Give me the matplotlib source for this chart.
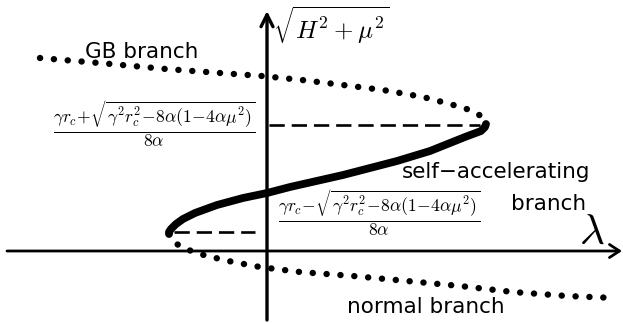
import matplotlib
matplotlib.use("Agg")
import matplotlib.pyplot as plt

plt.rcParams['mathtext.fontset'] = 'cm'
plt.rcParams['font.family'] = ['DejaVu Sans']
plt.rcParams['lines.scale_dashes'] = False

# Schematic curve values (lambda, sqrt(H^2+mu^2))
gb_lam = [-227, -156, -101, -47, -5, 35, 76, 116, 156, 183, 203, 211, 216, 219]
gb_s = [193, 187, 182, 178, 175, 171, 166, 161, 154, 147, 141, 137, 133, 127]

sa_lam = [219, 218, 214, 206, 198, 163, 130, 76, 23, 0, -24, -50, -72, -84, -91, -96, -98, -98]
sa_s = [127, 124, 120, 117, 114, 100, 90, 76, 64, 58, 53, 46, 38, 32, 27, 22, 19, 17]

nb_lam = [-98, -94, -86, -73, -60, -34, -7, 33, 86, 140, 193, 246, 300, 348]
nb_s = [17, 10, 4, -1, -5, -11, -16, -21, -25, -30, -35, -41, -45, -47]

upper_turn = (219, 126)
lower_turn = (-98, 19)

fig = plt.figure(figsize=(6.23, 3.24), dpi=100)
ax = fig.add_axes([0, 0, 1, 1])
ax.set_xlim(-267, 356)
ax.set_ylim(-73, 251)
ax.axis('off')

# axes with arrows
ax.annotate('', xy=(355, 0), xytext=(-260, 0),
            arrowprops=dict(arrowstyle='->,head_length=7.2,head_width=4.7',
                            mutation_scale=1, lw=2.0, color='black',
                            shrinkA=0, shrinkB=0))
ax.annotate('', xy=(0, 240), xytext=(0, -69),
            arrowprops=dict(arrowstyle='->,head_length=8.6,head_width=4.3',
                            mutation_scale=1, lw=2.4, color='black',
                            shrinkA=0, shrinkB=0))

dot_style = dict(color='black', lw=4.6, linestyle=(0, (0.1, 9.9)),
                 dash_capstyle='round', solid_capstyle='round')
ax.plot(gb_lam, gb_s, **dot_style)
ax.plot(nb_lam, nb_s, **dot_style)
ax.plot(sa_lam, sa_s, color='black', lw=5.6, solid_capstyle='round',
        solid_joinstyle='round')

dash_style = dict(color='black', lw=1.9, linestyle=(0, (11, 5)))
ax.plot([2, upper_turn[0] - 6], [upper_turn[1], upper_turn[1]], **dash_style)
ax.plot([lower_turn[0] + 5, -12], [lower_turn[1], lower_turn[1]], **dash_style)

# labels
ax.text(-182, 193, 'GB branch', fontsize=15.5, ha='left', va='baseline')
ax.text(135, 73, 'self\u2212accelerating', fontsize=15.5, ha='left', va='baseline')
ax.text(244, 41, 'branch', fontsize=15.5, ha='left', va='baseline')
ax.text(80, -62, 'normal branch', fontsize=15.5, ha='left', va='baseline')

ax.text(-113, 126.5,
        r'$\frac{\gamma r_c\!+\!\sqrt{\gamma^2 r_c^2\!-\!8\alpha(1\!-\!4\alpha\mu^2)}}{8\alpha}$',
        fontsize=18, ha='center', va='center')
ax.text(112, 38,
        r'$\frac{\gamma r_c\!-\!\sqrt{\gamma^2 r_c^2\!-\!8\alpha(1\!-\!4\alpha\mu^2)}}{8\alpha}$',
        fontsize=18, ha='center', va='center')

ax.text(6, 226, r'$\sqrt{H^2+\mu^2}$', fontsize=18, ha='left', va='center')
ax.text(325, 19, r'$\lambda$', fontsize=31, ha='center', va='center')

fig.savefig('out.png', dpi=100)
